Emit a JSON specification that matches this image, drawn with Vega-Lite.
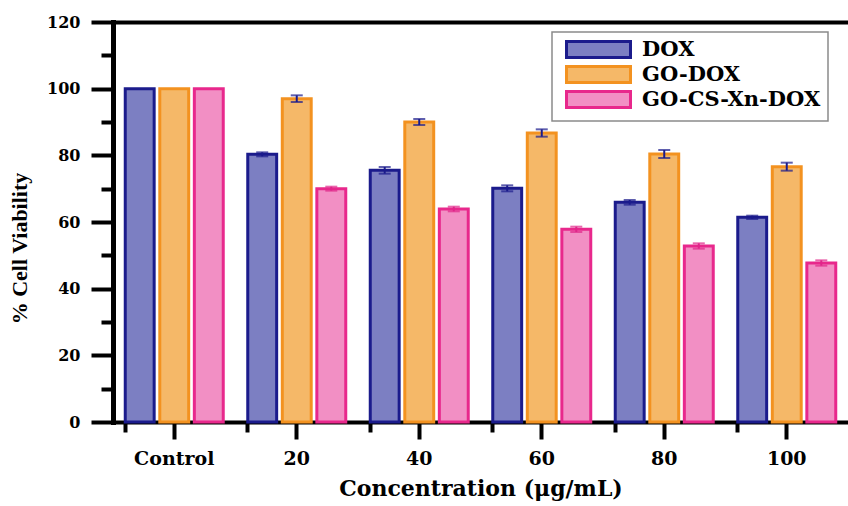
{
  "$schema": "https://vega.github.io/schema/vega-lite/v6.json",
  "width": 735,
  "height": 400,
  "autosize": {"type": "none"},
  "padding": {"left": 113, "top": 22, "right": 0, "bottom": 84},
  "background": "white",
  "config": {
    "view": {"stroke": null},
    "axis": {
      "grid": false,
      "domainColor": "black",
      "tickColor": "black",
      "labelColor": "black",
      "titleColor": "black",
      "labelFont": "DejaVu Serif",
      "labelFontWeight": "bold",
      "titleFont": "DejaVu Serif",
      "titleFontWeight": "bold",
      "domainCap": "square"
    },
    "legend": {
      "orient": "none",
      "legendX": 439,
      "legendY": 10,
      "fillColor": "white",
      "strokeColor": "#8a8a8a",
      "strokeWidth": 1.5,
      "padding": 7,
      "symbolType": "M-4,-1H4V1H-4Z",
      "symbolSize": 256,
      "symbolStrokeWidth": 3,
      "symbolOffset": 29,
      "labelOffset": 33,
      "labelFont": "DejaVu Serif",
      "labelFontWeight": "bold",
      "labelFontSize": 21,
      "labelColor": "black",
      "labelLimit": 400,
      "rowPadding": -7
    }
  },
  "data": {
    "values": [
      {"conc": "Control", "series": "DOX", "v": 100, "lo": null, "hi": null},
      {"conc": "Control", "series": "GO-DOX", "v": 100, "lo": null, "hi": null},
      {"conc": "Control", "series": "GO-CS-Xn-DOX", "v": 100, "lo": null, "hi": null},
      {"conc": "20", "series": "DOX", "v": 80.3, "lo": 79.7, "hi": 80.9},
      {"conc": "20", "series": "GO-DOX", "v": 97.0, "lo": 96.0, "hi": 98.0},
      {"conc": "20", "series": "GO-CS-Xn-DOX", "v": 70.0, "lo": 69.4, "hi": 70.6},
      {"conc": "40", "series": "DOX", "v": 75.5, "lo": 74.5, "hi": 76.5},
      {"conc": "40", "series": "GO-DOX", "v": 90.0, "lo": 89.1, "hi": 90.9},
      {"conc": "40", "series": "GO-CS-Xn-DOX", "v": 63.9, "lo": 63.2, "hi": 64.6},
      {"conc": "60", "series": "DOX", "v": 70.1, "lo": 69.2, "hi": 71.0},
      {"conc": "60", "series": "GO-DOX", "v": 86.7, "lo": 85.6, "hi": 87.8},
      {"conc": "60", "series": "GO-CS-Xn-DOX", "v": 57.8, "lo": 57.0, "hi": 58.6},
      {"conc": "80", "series": "DOX", "v": 65.9, "lo": 65.2, "hi": 66.6},
      {"conc": "80", "series": "GO-DOX", "v": 80.4, "lo": 79.2, "hi": 81.6},
      {"conc": "80", "series": "GO-CS-Xn-DOX", "v": 52.8, "lo": 52.0, "hi": 53.6},
      {"conc": "100", "series": "DOX", "v": 61.4, "lo": 60.9, "hi": 61.9},
      {"conc": "100", "series": "GO-DOX", "v": 76.6, "lo": 75.4, "hi": 77.8},
      {"conc": "100", "series": "GO-CS-Xn-DOX", "v": 47.7, "lo": 46.9, "hi": 48.5}
    ]
  },
  "layer": [
    {
      "mark": {"type": "bar", "strokeWidth": 3},
      "encoding": {
        "x": {
          "field": "conc", "type": "nominal", "sort": null,
          "scale": {"paddingInner": 0.2, "paddingOuter": 0.1},
          "axis": {
            "title": "Concentration (μg/mL)", "labelAngle": 0, "tickSize": 17, "tickWidth": 4,
            "domainWidth": 4, "labelFontSize": 19, "labelPadding": 10,
            "titleFontSize": 22, "titlePadding": 10
          }
        },
        "xOffset": {
          "field": "series", "type": "nominal", "sort": null,
          "scale": {"domain": ["DOX", "GO-DOX", "GO-CS-Xn-DOX"], "paddingInner": 0.163, "paddingOuter": 0}
        },
        "y": {
          "field": "v", "type": "quantitative",
          "scale": {"domain": [0, 120], "nice": false},
          "axis": {
            "values": [0, 20, 40, 60, 80, 100, 120], "title": "% Cell Viability",
            "tickSize": 22, "tickWidth": 4, "domainWidth": 5, "labelFontSize": 16, "labelPadding": 11,
            "titleFont": "Liberation Serif", "titleFontSize": 22, "titlePadding": 15, "titleY": 226
          }
        },
        "fill": {
          "field": "series", "type": "nominal", "sort": null,
          "scale": {"domain": ["DOX", "GO-DOX", "GO-CS-Xn-DOX"], "range": ["#7c7fc2", "#f5b868", "#f28fc4"]},
          "legend": {"title": null}
        },
        "stroke": {
          "field": "series", "type": "nominal", "sort": null,
          "scale": {"domain": ["DOX", "GO-DOX", "GO-CS-Xn-DOX"], "range": ["#1b1b8c", "#f39220", "#e8288c"]},
          "legend": {"title": null}
        }
      }
    },
    {
      "mark": {"type": "rule", "strokeWidth": 2},
      "encoding": {
        "x": {
          "field": "conc", "type": "nominal", "sort": null,
          "axis": {"orient": "bottom", "bandPosition": 0, "tickSize": 10, "tickWidth": 4, "labels": false, "domain": false, "title": null}
        },
        "xOffset": {"field": "series", "type": "nominal", "sort": null},
        "y": {
          "field": "lo", "type": "quantitative",
          "scale": {"domain": [0, 120], "nice": false},
          "axis": {"orient": "left", "values": [10, 30, 50, 70, 90, 110], "tickSize": 12, "tickWidth": 4, "labels": false, "domain": false, "title": null}
        },
        "y2": {"field": "hi"},
        "color": {
          "field": "series", "type": "nominal", "sort": null,
          "scale": {"domain": ["DOX", "GO-DOX", "GO-CS-Xn-DOX"], "range": ["#1b1b8c", "#1b1b8c", "#e0268a"]},
          "legend": null
        }
      }
    },
    {
      "mark": {"type": "tick", "thickness": 2, "size": 12},
      "encoding": {
        "x": {
          "field": "conc", "type": "nominal", "sort": null,
          "axis": {"orient": "top", "ticks": false, "labels": false, "domainWidth": 4, "title": null}
        },
        "xOffset": {"field": "series", "type": "nominal", "sort": null},
        "y": {"field": "hi", "type": "quantitative", "scale": {"domain": [0, 120], "nice": false}, "axis": null},
        "color": {"field": "series", "type": "nominal", "sort": null, "legend": null}
      }
    },
    {
      "mark": {"type": "tick", "thickness": 2, "size": 12},
      "encoding": {
        "x": {"field": "conc", "type": "nominal", "sort": null, "axis": null},
        "xOffset": {"field": "series", "type": "nominal", "sort": null},
        "y": {"field": "lo", "type": "quantitative", "scale": {"domain": [0, 120], "nice": false}, "axis": null},
        "color": {"field": "series", "type": "nominal", "sort": null, "legend": null}
      }
    }
  ],
  "resolve": {"axis": {"x": "independent", "y": "independent"}}
}
